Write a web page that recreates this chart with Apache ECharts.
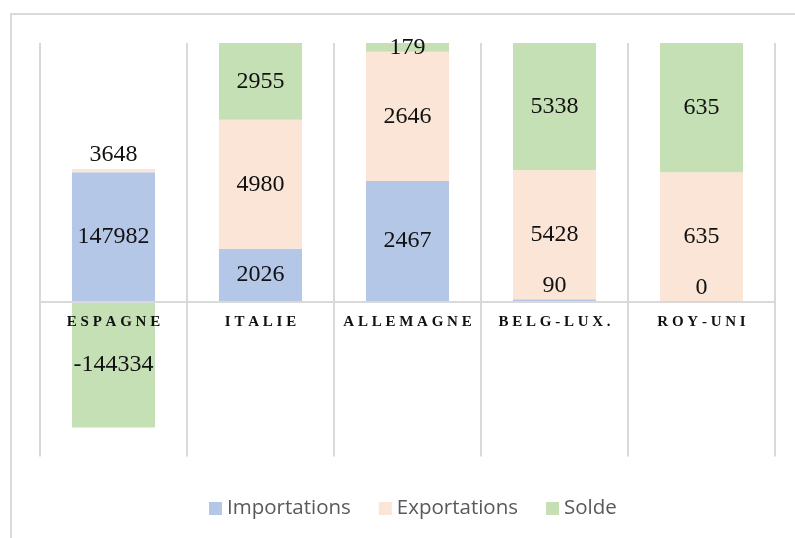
<!DOCTYPE html>
<html>
<head>
<meta charset="utf-8">
<script src="https://cdn.jsdelivr.net/npm/echarts@6/dist/echarts.min.js"></script>
<style>
html,body{margin:0;padding:0;background:#fff;}
#chart{width:795px;height:538px;}
</style>
</head>
<body>
<div id="chart"></div>
<script>
const categories = ['ESPAGNE', 'ITALIE', 'ALLEMAGNE', 'BELG-LUX.', 'ROY-UNI'];
const importations = [147982, 2026, 2467, 90, 0];
const exportations = [3648, 4980, 2646, 5428, 635];
const solde = [-144334, 2955, 179, 5338, 635];
const seriesNames = ['Importations', 'Exportations', 'Solde'];
const colors = ['#b4c7e7', '#fbe5d6', '#c5e0b4'];

const raw = [importations, exportations, solde];
const totals = categories.map((c, i) =>
  raw.reduce((s, arr) => s + Math.abs(arr[i]), 0));

// labels to place above small segments
const topLabel = {
  '1-0': true,   // Espagne exportations
  '0-3': true,   // Belg-Lux importations
  '0-4': true    // Roy-Uni importations
};

const labelFont = {
  fontFamily: 'Liberation Serif',
  fontSize: 24,
  color: '#111'
};

const series = raw.map((arr, si) => ({
  name: seriesNames[si],
  type: 'bar',
  stack: 'total',
  barWidth: '56.5%',
  itemStyle: { color: colors[si] },
  label: Object.assign({
    show: true,
    position: 'inside',
    formatter: p => String(arr[p.dataIndex])
  }, labelFont),
  data: arr.map((v, i) => {
    const d = { value: v / totals[i] };
    if (topLabel[si + '-' + i]) {
      d.label = { position: 'top', distance: 2 };
    }
    return d;
  })
}));

const chart = echarts.init(document.getElementById('chart'), null, { renderer: 'canvas' });
chart.setOption({
  animation: false,
  backgroundColor: '#fff',
  color: colors,
  grid: { left: 40, right: 20, top: 43, bottom: 81.5, containLabel: false },
  graphic: [{
    type: 'rect',
    z: -1,
    shape: { x: 11, y: 14, width: 820, height: 600 },
    style: { fill: 'none', stroke: '#d9d9d9', lineWidth: 2 }
  }],
  legend: {
    bottom: 14,
    left: 204,
    itemWidth: 13,
    itemHeight: 13,
    itemGap: 28,
    icon: 'rect',
    textStyle: { fontFamily: 'Open Sans', fontSize: 20.5, color: '#595959' },
    data: seriesNames
  },
  xAxis: {
    type: 'category',
    data: categories,
    z: 10,
    axisLine: { show: true, onZero: true, lineStyle: { color: '#d9d9d9', width: 2 } },
    axisTick: { show: false },
    splitLine: { show: true, interval: 0, lineStyle: { color: '#d9d9d9', width: 2 } },
    axisLabel: {
      interval: 0,
      margin: -142,
      fontFamily: 'Liberation Serif',
      fontWeight: 'bold',
      fontSize: 15,
      color: '#111',
      formatter: v => v.split('').join(' ')
    }
  },
  yAxis: {
    type: 'value',
    min: -0.6,
    max: 1.0,
    interval: 0.2,
    show: false,
    splitLine: { show: false }
  },
  series: series
});
</script>
</body>
</html>
